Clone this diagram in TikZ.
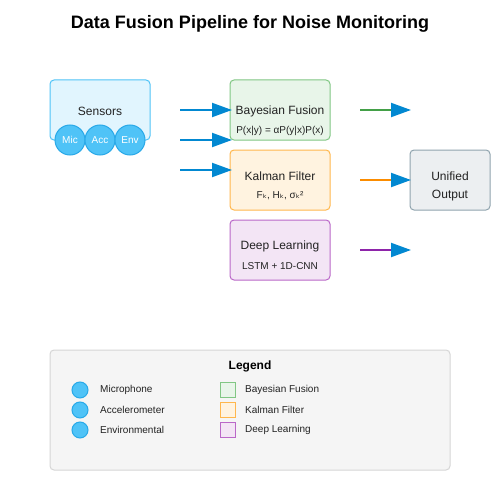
\documentclass[tikz,border=0pt]{standalone}
\usepackage{fontspec}
\setmainfont{Liberation Sans}
\newfontfamily\djv{DejaVu Sans}
\usetikzlibrary{arrows.meta}
\definecolor{sensfill}{HTML}{E1F5FE}
\definecolor{sensdraw}{HTML}{4FC3F7}
\definecolor{circfill}{HTML}{4FC3F7}
\definecolor{circdraw}{HTML}{29A9E8}
\definecolor{arrblue}{HTML}{0288D1}
\definecolor{bayfill}{HTML}{E8F5E9}
\definecolor{baydraw}{HTML}{81C784}
\definecolor{kalfill}{HTML}{FFF3E0}
\definecolor{kaldraw}{HTML}{FFB74D}
\definecolor{dlfill}{HTML}{F3E5F5}
\definecolor{dldraw}{HTML}{BA68C8}
\definecolor{outfill}{HTML}{ECEFF1}
\definecolor{outdraw}{HTML}{90A4AE}
\definecolor{leggfill}{HTML}{F5F5F5}
\definecolor{leggdraw}{HTML}{D6D6D6}
\definecolor{agreen}{HTML}{43A047}
\definecolor{aorange}{HTML}{FB8C00}
\definecolor{apurple}{HTML}{8E24AA}
\definecolor{txt}{HTML}{222222}
\tikzset{
  box/.style={rounded corners=4pt, line width=1pt, minimum width=100pt, minimum height=60pt, inner sep=0pt},
  sens/.style={circle, fill=circfill, draw=circdraw, line width=1pt, minimum size=30pt, inner sep=0pt, text=white, font=\fontsize{10}{12}\selectfont},
  flow/.style={line width=2pt, -{Triangle[length=20pt,width=14pt,color=arrblue]}},
  lbl/.style={font=\fontsize{12}{14}\selectfont, text=txt, inner sep=0pt},
  sub/.style={font=\fontsize{10}{12}\selectfont, text=txt, inner sep=0pt},
  legc/.style={circle, fill=circfill, draw=circdraw, line width=1pt, minimum size=16pt, inner sep=0pt},
  legs/.style={minimum size=15pt, inner sep=0pt, line width=1pt},
  legt/.style={font=\fontsize{10}{12}\selectfont, text=txt, anchor=west, inner sep=0pt},
}
\begin{document}
\begin{tikzpicture}[x=1pt,y=-1pt]
\useasboundingbox[fill=white] (0,0) rectangle (500,500);
\node[font=\bfseries\fontsize{18}{22}\selectfont, inner sep=0pt] (title) at (250,24) {Data Fusion Pipeline for Noise Monitoring};
% sensors
\node[box, fill=sensfill, draw=sensdraw] (sensors) at (100,110) {};
\node[lbl] (senslbl) at (100,111) {Sensors};
\node[sens] (mic) at (70,140) {Mic};
\node[sens] (acc) at (100,140) {Acc};
\node[sens] (env) at (130,140) {Env};
% method boxes
\node[box, fill=bayfill, draw=baydraw] (bay) at (280,110) {};
\node[lbl] (baylbl) at (280,111) {Bayesian Fusion};
\node[sub] (bayeq) at (280,131) {P(x|y) = αP(y|x)P(x)};
\node[box, fill=kalfill, draw=kaldraw] (kal) at (280,180) {};
\node[lbl] (kallbl) at (280,176) {Kalman Filter};
\node[sub] (kaleq) at (280,196) {F{\djv ₖ}, H{\djv ₖ}, σ{\djv ₖ}²};
\node[box, fill=dlfill, draw=dldraw] (dl) at (280,250) {};
\node[lbl] (dllbl) at (280,246) {Deep Learning};
\node[sub] (dleq) at (280,266) {LSTM + 1D-CNN};
\node[box, fill=outfill, draw=outdraw, minimum width=80pt] (out) at (450,180) {};
\node[lbl] (outlbl1) at (450,176) {Unified};
\node[lbl] (outlbl2) at (450,196) {Output};
% arrows in
\coordinate (s1) at (180,110); \coordinate (t1) at (232,110);
\coordinate (s2) at (180,140); \coordinate (t2) at (232,140);
\coordinate (s3) at (180,170); \coordinate (t3) at (232,170);
\draw[flow, arrblue] (s1) -- (t1);
\draw[flow, arrblue] (s2) -- (t2);
\draw[flow, arrblue] (s3) -- (t3);
% arrows out
\coordinate (o1) at (360,110); \coordinate (p1) at (411,110);
\coordinate (o2) at (360,180); \coordinate (p2) at (411,180);
\coordinate (o3) at (360,250); \coordinate (p3) at (411,250);
\draw[flow, agreen] (o1) -- (p1);
\draw[flow, aorange] (o2) -- (p2);
\draw[flow, apurple] (o3) -- (p3);
% legend
\node[box, fill=leggfill, draw=leggdraw, minimum width=400pt, minimum height=120pt] (legend) at (250,410) {};
\node[font=\bfseries\fontsize{12}{14}\selectfont, inner sep=0pt] (legtitle) at (250,366) {Legend};
\node[legc] (lc1) at (80,390) {};
\node[legc] (lc2) at (80,410) {};
\node[legc] (lc3) at (80,430) {};
\node[legt] (lt1) at (100,390) {Microphone};
\node[legt] (lt2) at (100,410) {Accelerometer};
\node[legt] (lt3) at (100,430) {Environmental};
\node[legs, fill=bayfill, draw=baydraw] (ls1) at (227.5,389.5) {};
\node[legs, fill=kalfill, draw=kaldraw] (ls2) at (227.5,409.5) {};
\node[legs, fill=dlfill, draw=dldraw] (ls3) at (227.5,429.5) {};
\node[legt] (lu1) at (245,390) {Bayesian Fusion};
\node[legt] (lu2) at (245,410) {Kalman Filter};
\node[legt] (lu3) at (245,430) {Deep Learning};
\end{tikzpicture}
\end{document}
